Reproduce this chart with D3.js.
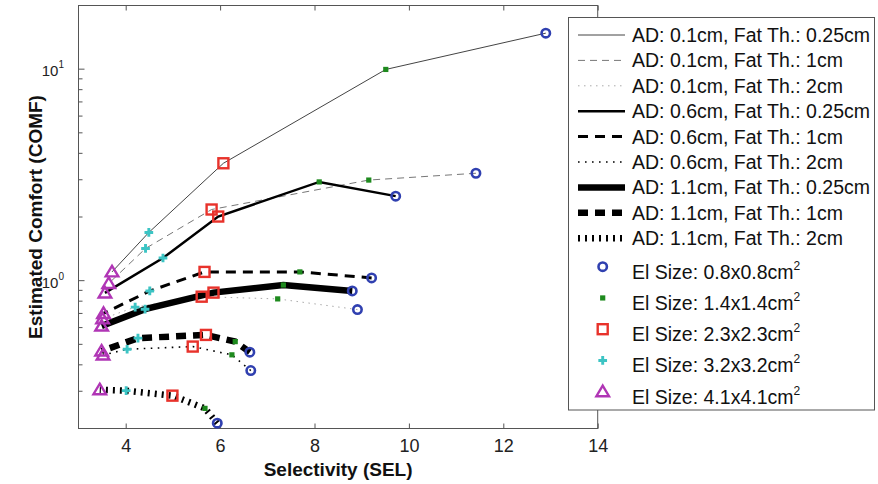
<!DOCTYPE html>
<html>
<head>
<meta charset="utf-8">
<script src="https://cdn.jsdelivr.net/npm/d3@7"></script>
<style>
  body { margin: 0; background: #fff; }
  svg { font-family: "Liberation Sans", Arial, sans-serif; }
</style>
</head>
<body>
<svg id="chart" width="878" height="484"></svg>
<script>
// electrode sizes (marker order along each curve, right to left)
const elSizes = ["0.8x0.8", "1.4x1.4", "2.3x2.3", "3.2x3.2", "4.1x4.1"];

const curveNames = [
    "AD: 0.1cm, Fat Th.: 0.25cm",
    "AD: 0.1cm, Fat Th.: 1cm",
    "AD: 0.1cm, Fat Th.: 2cm",
    "AD: 0.6cm, Fat Th.: 0.25cm",
    "AD: 0.6cm, Fat Th.: 1cm",
    "AD: 0.6cm, Fat Th.: 2cm",
    "AD: 1.1cm, Fat Th.: 0.25cm",
    "AD: 1.1cm, Fat Th.: 1cm",
    "AD: 1.1cm, Fat Th.: 2cm"
];

// selectivity / comfort, values per electrode size (0.8 -> 4.1)
const sel_01_025 = [12.9, 9.51, 6.07, 4.49, 3.71];
const comf_01_025 = [14.8, 9.97, 3.59, 1.69, 1.10];
const sel_01_1 = [11.42, 9.15, 5.82, 4.42, 3.64];
const comf_01_1 = [3.22, 2.99, 2.17, 1.42, 0.97];
const sel_01_2 = [8.91, 7.22, 5.61, 4.20, 3.51];
const comf_01_2 = [0.73, 0.82, 0.84, 0.75, 0.66];
const sel_06_025 = [9.72, 8.10, 5.96, 4.79, 3.56];
const comf_06_025 = [2.51, 2.93, 2.01, 1.28, 0.875];
const sel_06_1 = [9.21, 7.69, 5.67, 4.51, 3.53];
const comf_06_1 = [1.03, 1.10, 1.10, 0.894, 0.70];
const sel_06_2 = [6.65, 6.25, 5.42, 4.03, 3.52];
const comf_06_2 = [0.376, 0.446, 0.488, 0.474, 0.445];
const sel_11_025 = [8.80, 7.34, 5.86, 4.41, 3.49];
const comf_11_025 = [0.894, 0.954, 0.878, 0.733, 0.61];
const sel_11_1 = [6.63, 6.32, 5.70, 4.26, 3.49];
const comf_11_1 = [0.459, 0.515, 0.554, 0.535, 0.465];
const sel_11_2 = [5.94, 5.68, 4.99, 4.01, 3.45];
const comf_11_2 = [0.212, 0.249, 0.286, 0.302, 0.305];

const xTicks = [4, 6, 8, 10, 12, 14];
const yMajor = [1, 10];
const yMinor = [0.3, 0.4, 0.5, 0.6, 0.7, 0.8, 0.9, 2, 3, 4, 5, 6, 7, 8, 9];

const selAll = [sel_01_025, sel_01_1, sel_01_2, sel_06_025, sel_06_1, sel_06_2, sel_11_025, sel_11_1, sel_11_2];
const comfAll = [comf_01_025, comf_01_1, comf_01_2, comf_06_025, comf_06_1, comf_06_2, comf_11_025, comf_11_1, comf_11_2];

// line styles for the 9 curves
const lineStyles = [
    { w: 1,   color: "#444", dash: null },
    { w: 1,   color: "#777", dash: "7,5" },
    { w: 1,   color: "#aaa", dash: "1.5,4.5" },
    { w: 2.5, color: "#000", dash: null },
    { w: 3,   color: "#000", dash: "10,7" },
    { w: 1.6, color: "#000", dash: "1.6,5.4" },
    { w: 6.5, color: "#000", dash: null },
    { w: 6.5, color: "#000", dash: "10,7" },
    { w: 6.5, color: "#000", dash: "2,5" }
];

const markerKinds = ["circle", "dot", "square", "cross", "triangle"];

const svg = d3.select("#chart");

const x = d3.scaleLinear().domain([3, 14]).range([78.5, 597.7]);
const y = d3.scaleLog().domain([0.2, 20]).range([428.5, 5.5]);

// axes frame
svg.append("rect")
    .attr("x", x(3)).attr("y", y(20))
    .attr("width", x(14) - x(3)).attr("height", y(0.2) - y(20))
    .attr("fill", "none").attr("stroke", "#555").attr("stroke-width", 1);

// bottom axis
const xAxis = svg.append("g")
    .attr("transform", `translate(0,${y(0.2)})`)
    .call(d3.axisBottom(x).tickValues(xTicks).tickSize(-5).tickPadding(11));
xAxis.select(".domain").remove();
xAxis.selectAll("line").attr("stroke", "#555");
xAxis.selectAll("text").attr("font-size", 18).attr("fill", "#222")
    .attr("font-family", "Liberation Sans, Arial, sans-serif");

// top axis ticks
const xTop = svg.append("g")
    .attr("transform", `translate(0,${y(20)})`)
    .call(d3.axisTop(x).tickValues(xTicks).tickSize(-5).tickFormat(""));
xTop.select(".domain").remove();
xTop.selectAll("line").attr("stroke", "#555");

// left axis ticks (log)
svg.append("g").selectAll("line.maj")
    .data(yMajor).enter().append("line")
    .attr("x1", x(3)).attr("x2", x(3) + 6)
    .attr("y1", d => y(d)).attr("y2", d => y(d))
    .attr("stroke", "#555");
svg.append("g").selectAll("line.min")
    .data(yMinor).enter().append("line")
    .attr("x1", x(3)).attr("x2", x(3) + 4)
    .attr("y1", d => y(d)).attr("y2", d => y(d))
    .attr("stroke", "#555");

const yLab = svg.append("g").selectAll("text")
    .data(yMajor).enter().append("text")
    .attr("x", 64).attr("y", d => y(d) + 7)
    .attr("text-anchor", "end")
    .attr("fill", "#222");
yLab.append("tspan").attr("font-size", 15).text("10");
yLab.append("tspan").attr("font-size", 10).attr("dy", -8)
    .text(d => Math.round(Math.log10(d)));

// axis titles
svg.append("text")
    .attr("x", (x(3) + x(14)) / 2).attr("y", 476)
    .attr("text-anchor", "middle")
    .attr("font-size", 19).attr("font-weight", "bold").attr("fill", "#111")
    .text("Selectivity (SEL)");

svg.append("text")
    .attr("transform", `translate(35,${(y(0.2) + y(20)) / 2}) rotate(-90)`)
    .attr("text-anchor", "middle").attr("dy", "0.35em")
    .attr("font-size", 19).attr("font-weight", "bold").attr("fill", "#111")
    .text("Estimated Comfort (COMF)");

// curves
const line = d3.line().x(d => x(d[0])).y(d => y(d[1]));

selAll.forEach((sel, i) => {
    const pts = sel.map((s, k) => [s, comfAll[i][k]]);
    const st = lineStyles[i];
    svg.append("path")
        .attr("d", line(pts))
        .attr("fill", "none")
        .attr("stroke", st.color)
        .attr("stroke-width", st.w)
        .attr("stroke-dasharray", st.dash);
});

function drawMarker(g, kind, cx, cy) {
    if (kind === "circle") {
        g.append("circle").attr("cx", cx).attr("cy", cy).attr("r", 4.2)
            .attr("fill", "none").attr("stroke", "#3040b0").attr("stroke-width", 2.6);
    } else if (kind === "dot") {
        g.append("rect").attr("x", cx - 2.6).attr("y", cy - 2.6)
            .attr("width", 5.2).attr("height", 5.2).attr("fill", "#1e8a1e");
    } else if (kind === "square") {
        g.append("rect").attr("x", cx - 5).attr("y", cy - 5)
            .attr("width", 10).attr("height", 10)
            .attr("fill", "none").attr("stroke", "#e8322b").attr("stroke-width", 2.4);
    } else if (kind === "cross") {
        g.append("path").attr("transform", `translate(${cx},${cy})`)
            .attr("d", d3.symbol(d3.symbolCross, 42)())
            .attr("fill", "#3cc4c4");
    } else if (kind === "triangle") {
        const h = 6;
        g.append("path")
            .attr("d", `M${cx},${cy - h}L${cx + h * 1.05},${cy + h * 0.75}L${cx - h * 1.05},${cy + h * 0.75}Z`)
            .attr("fill", "none").attr("stroke", "#b035b5").attr("stroke-width", 2.4)
            .attr("stroke-linejoin", "miter");
    }
}

const markG = svg.append("g");
selAll.forEach((sel, i) => {
    sel.forEach((s, k) => {
        drawMarker(markG, markerKinds[k], x(s), y(comfAll[i][k]));
    });
});

// legend
const legend = svg.append("g");
legend.append("rect")
    .attr("x", 568.5).attr("y", 17.5).attr("width", 306).attr("height", 392.5)
    .attr("fill", "#fff").attr("stroke", "#555");

curveNames.forEach((name, i) => {
    const ly = 35 + i * 25.4;
    const st = lineStyles[i];
    legend.append("line")
        .attr("x1", 578).attr("x2", 625).attr("y1", ly).attr("y2", ly)
        .attr("stroke", st.color).attr("stroke-width", st.w)
        .attr("stroke-dasharray", st.dash);
    legend.append("text")
        .attr("x", 632).attr("y", ly).attr("dy", "0.36em")
        .attr("font-size", 19.5).attr("fill", "#111")
        .text(name);
});

elSizes.forEach((sz, k) => {
    const ly = 266.7 + k * 31.25;
    drawMarker(legend, markerKinds[k], 602.7, ly);
    const t = legend.append("text")
        .attr("x", 632).attr("y", ly + 5).attr("dy", "0.36em")
        .attr("font-size", 19.5).attr("fill", "#111");
    t.append("tspan").text(`El Size: ${sz}cm`);
    t.append("tspan").attr("font-size", 12).attr("dy", -9).text("2");
});
</script>
</body>
</html>
